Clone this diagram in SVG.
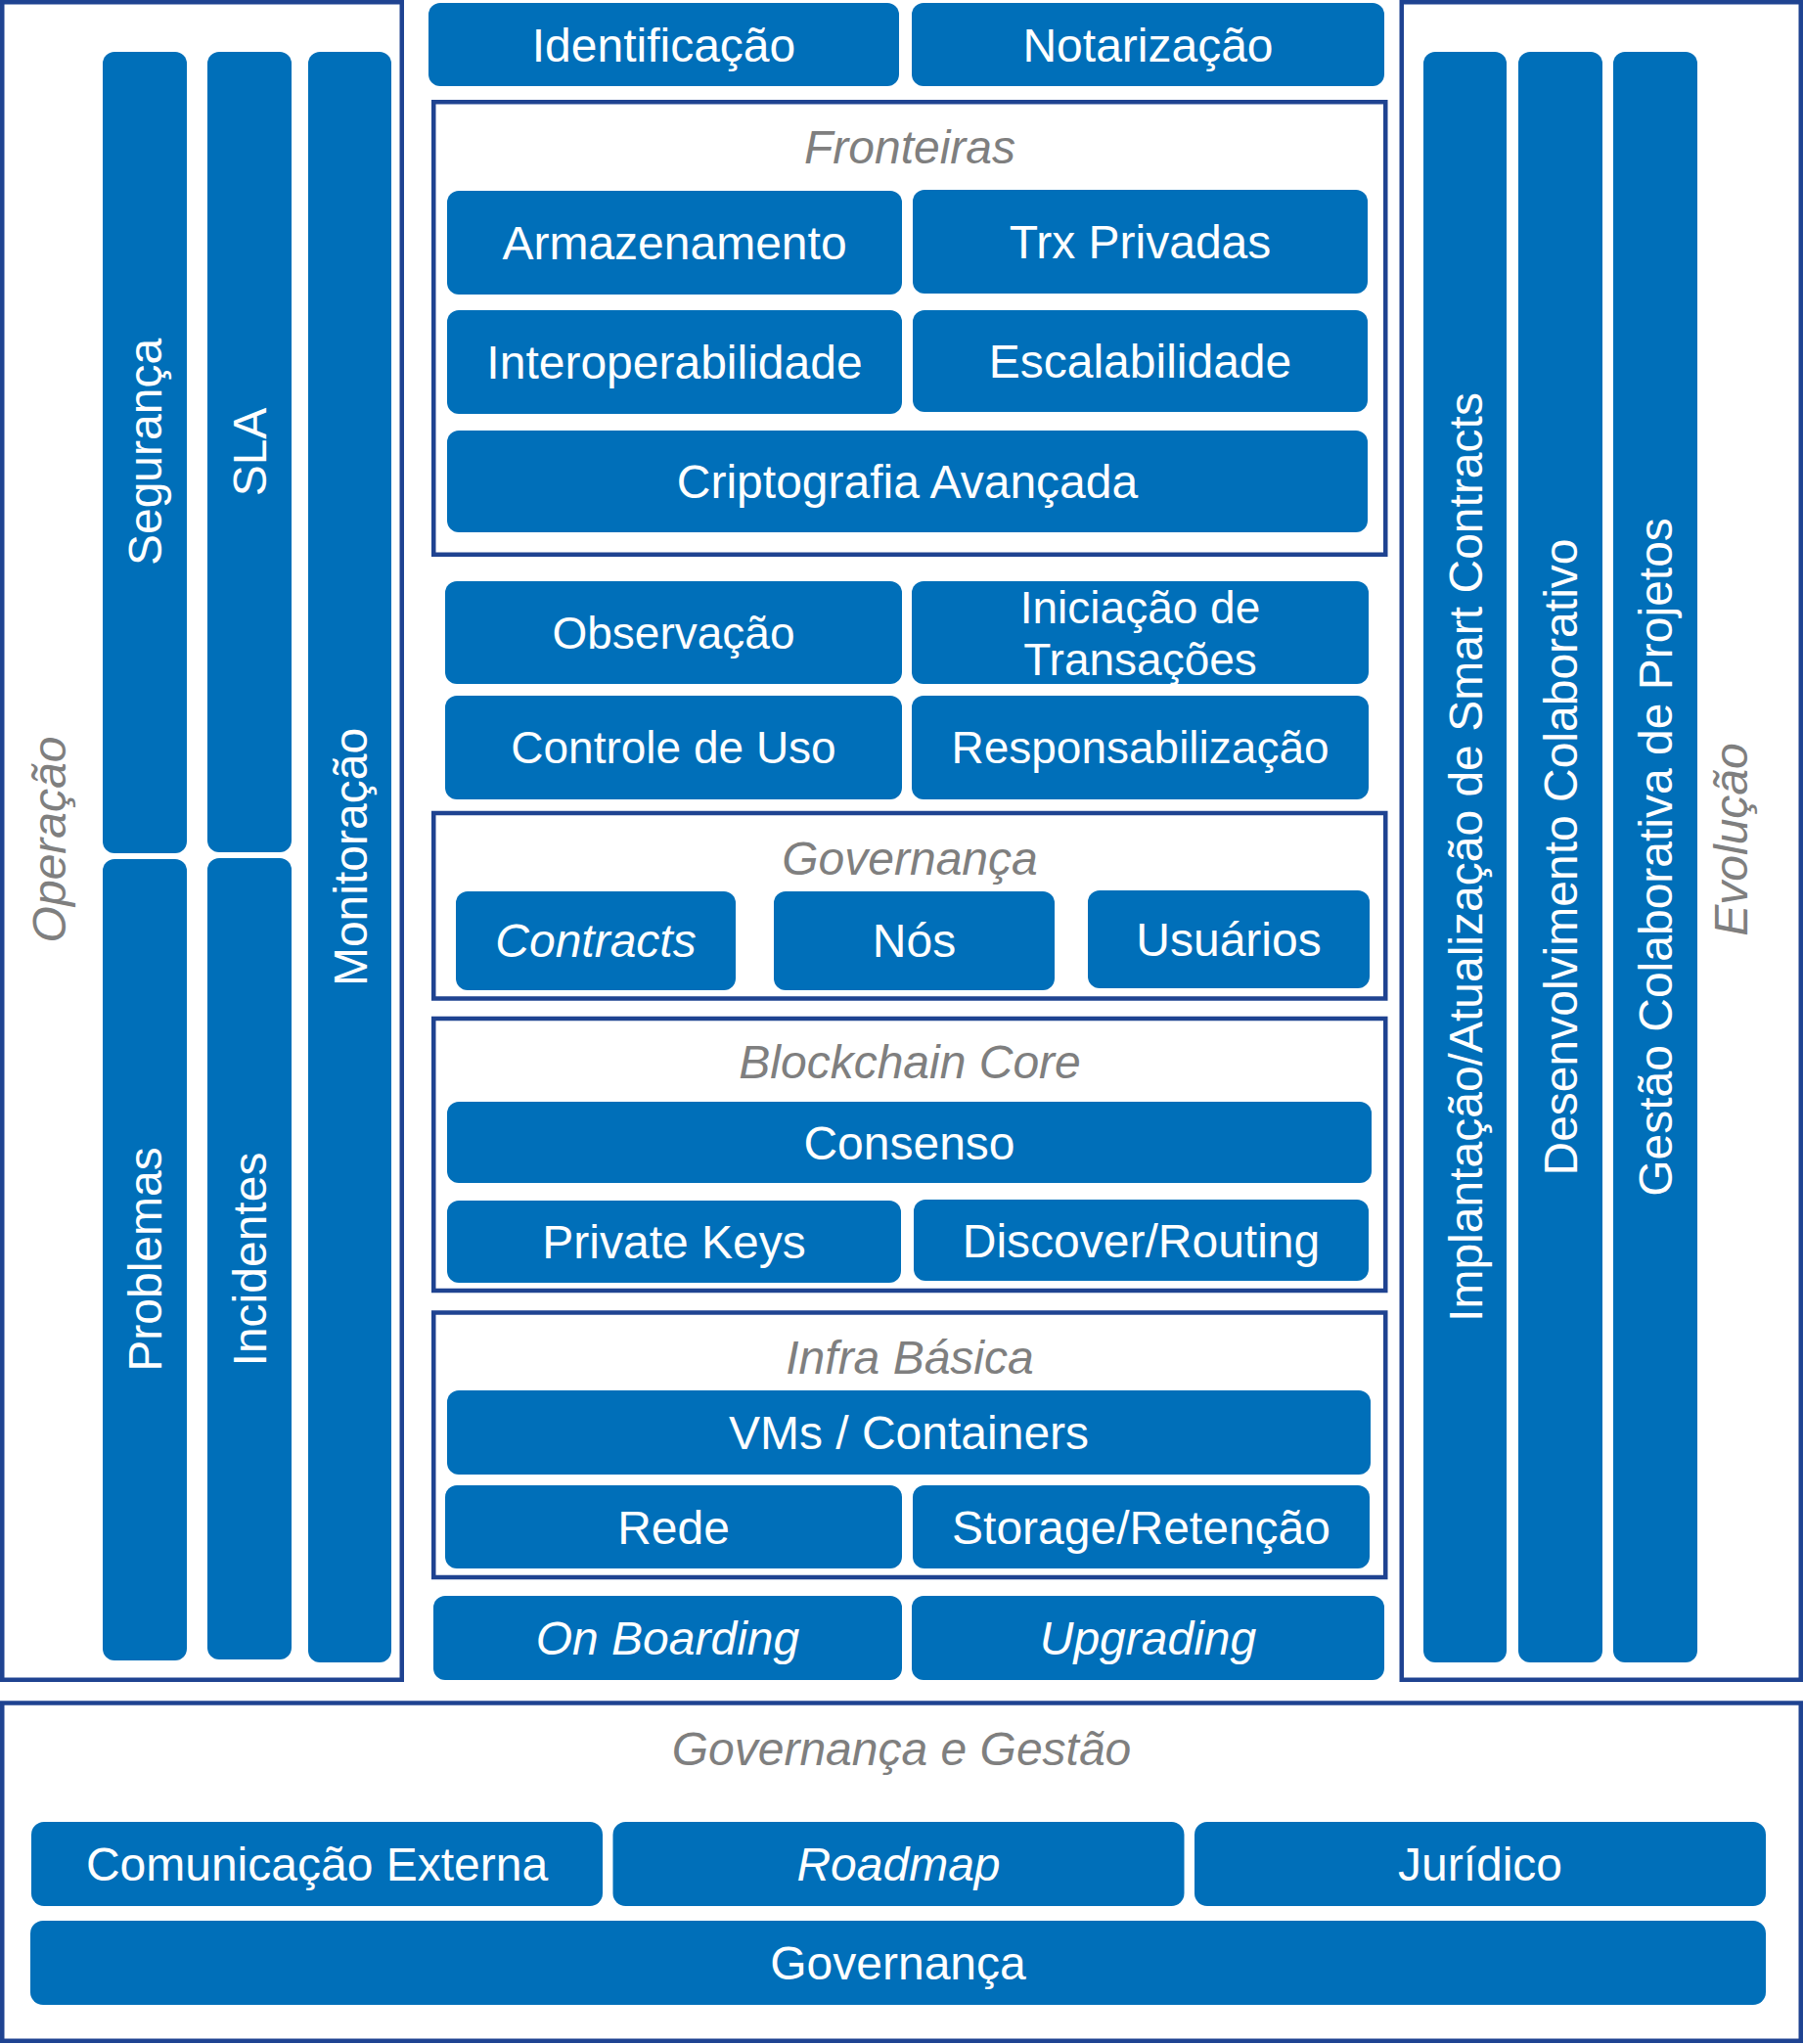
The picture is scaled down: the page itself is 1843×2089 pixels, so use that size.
<svg xmlns="http://www.w3.org/2000/svg" width="1843" height="2089" viewBox="0 0 1843 2089">
<style>
.frame{fill:#FFFFFF;stroke:#1F4391;stroke-width:4.5}
.box{fill:#006FB9}
.t{font-family:"Liberation Sans",Arial,sans-serif;font-size:48px;fill:#FFFFFF;text-anchor:middle}
.s{font-size:46px}
.i{font-style:italic}
.h{font-family:"Liberation Sans",Arial,sans-serif;font-size:48px;fill:#7F7F7F;font-style:italic;text-anchor:middle}
</style>
<rect x="0" y="0" width="1843" height="2089" fill="#FFFFFF"/>

<g id="operacao">
<rect class="frame" x="2.25" y="2.25" width="408.5" height="1714.5"/>
<text class="h" transform="translate(67,858) rotate(-90)">Operação</text>
</g>
<g id="seguranca"><rect class="box" x="105" y="53" width="86" height="819" rx="12"/><text class="t" transform="translate(165,462) rotate(-90)">Segurança</text></g>
<g id="problemas"><rect class="box" x="105" y="878" width="86" height="819" rx="12"/><text class="t" transform="translate(165,1287) rotate(-90)">Problemas</text></g>
<g id="sla"><rect class="box" x="212" y="53" width="86" height="818" rx="12"/><text class="t" transform="translate(272,462) rotate(-90)">SLA</text></g>
<g id="incidentes"><rect class="box" x="212" y="877" width="86" height="819" rx="12"/><text class="t" transform="translate(272,1287) rotate(-90)">Incidentes</text></g>
<g id="monitoracao"><rect class="box" x="315" y="53" width="85" height="1646" rx="12"/><text class="t" transform="translate(375,876) rotate(-90)">Monitoração</text></g>

<g id="evolucao">
<rect class="frame" x="1432.75" y="2.25" width="408" height="1714.5"/>
<text class="h" transform="translate(1786,858) rotate(-90)">Evolução</text>
</g>
<g id="implantacao"><rect class="box" x="1455" y="53" width="85" height="1646" rx="12"/><text class="t" transform="translate(1515,876) rotate(-90)">Implantação/Atualização de Smart Contracts</text></g>
<g id="desenvolvimento"><rect class="box" x="1552" y="53" width="86" height="1646" rx="12"/><text class="t" transform="translate(1612,876) rotate(-90)">Desenvolvimento Colaborativo</text></g>
<g id="gestao-projetos"><rect class="box" x="1649" y="53" width="86" height="1646" rx="12"/><text class="t" transform="translate(1709,876) rotate(-90)">Gestão Colaborativa de Projetos</text></g>

<g id="identificacao"><rect class="box" x="438" y="3" width="481" height="85" rx="12"/><text class="t" x="678.5" y="62.5">Identificação</text></g>
<g id="notarizacao"><rect class="box" x="932" y="3" width="483" height="85" rx="12"/><text class="t" x="1173.5" y="62.5">Notarização</text></g>

<g id="fronteiras">
<rect class="frame" x="443.25" y="104.25" width="973" height="462.5"/>
<text class="h" x="930" y="167">Fronteiras</text>
</g>
<g id="armazenamento"><rect class="box" x="457" y="195" width="465" height="106" rx="12"/><text class="t" x="689.5" y="265">Armazenamento</text></g>
<g id="trx"><rect class="box" x="933" y="194" width="465" height="106" rx="12"/><text class="t" x="1165.5" y="264">Trx Privadas</text></g>
<g id="interoperabilidade"><rect class="box" x="457" y="317" width="465" height="106" rx="12"/><text class="t" x="689.5" y="387">Interoperabilidade</text></g>
<g id="escalabilidade"><rect class="box" x="933" y="317" width="465" height="104" rx="12"/><text class="t" x="1165.5" y="386">Escalabilidade</text></g>
<g id="criptografia"><rect class="box" x="457" y="440" width="941" height="104" rx="12"/><text class="t" x="927.5" y="509">Criptografia Avançada</text></g>

<g id="observacao"><rect class="box" x="455" y="594" width="467" height="105" rx="12"/><text class="t s" x="688.5" y="663">Observação</text></g>
<g id="iniciacao"><rect class="box" x="932" y="594" width="467" height="105" rx="12"/><text class="t s" x="1165.5" y="637">Iniciação de</text><text class="t s" x="1165.5" y="690">Transações</text></g>
<g id="controle"><rect class="box" x="455" y="711" width="467" height="106" rx="12"/><text class="t s" x="688.5" y="780">Controle de Uso</text></g>
<g id="responsabilizacao"><rect class="box" x="932" y="711" width="467" height="106" rx="12"/><text class="t s" x="1165.5" y="780">Responsabilização</text></g>

<g id="governanca">
<rect class="frame" x="443.25" y="831" width="973" height="189.5"/>
<text class="h" x="930" y="894">Governança</text>
</g>
<g id="contracts"><rect class="box" x="466" y="911" width="286" height="101" rx="12"/><text class="t i" x="609" y="978">Contracts</text></g>
<g id="nos"><rect class="box" x="791" y="911" width="287" height="101" rx="12"/><text class="t" x="934.5" y="978">Nós</text></g>
<g id="usuarios"><rect class="box" x="1112" y="910" width="288" height="100" rx="12"/><text class="t" x="1256" y="977">Usuários</text></g>

<g id="blockchain-core">
<rect class="frame" x="443.25" y="1041" width="973" height="278"/>
<text class="h" x="930" y="1102">Blockchain Core</text>
</g>
<g id="consenso"><rect class="box" x="457" y="1126" width="945" height="83" rx="12"/><text class="t" x="929.5" y="1184.5">Consenso</text></g>
<g id="private-keys"><rect class="box" x="457" y="1227" width="464" height="84" rx="12"/><text class="t" x="689" y="1286">Private Keys</text></g>
<g id="discover"><rect class="box" x="934" y="1226" width="465" height="83" rx="12"/><text class="t" x="1166.5" y="1284.5">Discover/Routing</text></g>

<g id="infra">
<rect class="frame" x="443.25" y="1341.5" width="973" height="270.5"/>
<text class="h" x="930" y="1404">Infra Básica</text>
</g>
<g id="vms"><rect class="box" x="457" y="1421" width="944" height="86" rx="12"/><text class="t" x="929" y="1481">VMs / Containers</text></g>
<g id="rede"><rect class="box" x="455" y="1518" width="467" height="85" rx="12"/><text class="t" x="688.5" y="1577.5">Rede</text></g>
<g id="storage"><rect class="box" x="933" y="1518" width="467" height="85" rx="12"/><text class="t" x="1166.5" y="1577.5">Storage/Retenção</text></g>

<g id="onboarding"><rect class="box" x="443" y="1631" width="479" height="86" rx="12"/><text class="t i" x="682.5" y="1691">On Boarding</text></g>
<g id="upgrading"><rect class="box" x="932" y="1631" width="483" height="86" rx="12"/><text class="t i" x="1173.5" y="1691">Upgrading</text></g>

<g id="governanca-gestao">
<rect class="frame" x="2.25" y="1740.5" width="1838.5" height="345.25"/>
<text class="h" x="921.5" y="1804">Governança e Gestão</text>
</g>
<g id="comunicacao"><rect class="box" x="32" y="1862" width="584" height="86" rx="13"/><text class="t" x="324" y="1922">Comunicação Externa</text></g>
<g id="roadmap"><rect class="box" x="626.5" y="1862" width="584" height="86" rx="13"/><text class="t i" x="918.5" y="1922">Roadmap</text></g>
<g id="juridico"><rect class="box" x="1221" y="1862" width="584" height="86" rx="13"/><text class="t" x="1513" y="1922">Jurídico</text></g>
<g id="governanca-base"><rect class="box" x="31" y="1963" width="1774" height="86" rx="13"/><text class="t" x="918" y="2023">Governança</text></g>

<g id="connectors"></g>
</svg>
